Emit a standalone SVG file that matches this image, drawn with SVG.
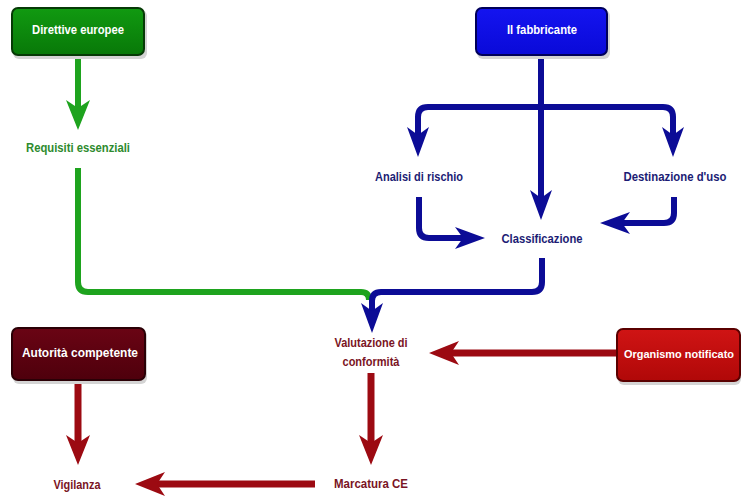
<svg xmlns="http://www.w3.org/2000/svg" width="743" height="497" viewBox="0 0 743 497">
<style>
  text { font-family: "Liberation Sans", Arial, sans-serif; font-weight: bold; font-size: 12.5px; text-anchor: middle; }
  .box text { fill: #ffffff; }
  .shadow { fill: #d4d4d4; }
  .lbl-g { fill: #2e8b2e; }
  .lbl-b { fill: #1c1c74; }
  .lbl-r { fill: #7a1424; }
  .g { stroke: #1ea31e; stroke-width: 6; fill: none; marker-end: url(#ag); }
  .b { stroke: #0c0c96; stroke-width: 6; fill: none; marker-end: url(#ab); }
  .r { stroke: #9c0a12; stroke-width: 7; fill: none; marker-end: url(#ar); }
  .nomark { marker-end: none; }
</style>
<defs>
  <marker id="ag" viewBox="0 0 30 24" refX="8" refY="12" markerWidth="30" markerHeight="24" markerUnits="userSpaceOnUse" orient="auto-start-reverse"><path d="M0,0 L30,12 L0,24 L8,12 Z" fill="#1ea31e"/></marker>
  <marker id="ab" viewBox="0 0 30 24" refX="8" refY="12" markerWidth="30" markerHeight="24" markerUnits="userSpaceOnUse" orient="auto-start-reverse"><path d="M0,1 L30,12 L0,23 L8,12 Z" fill="#0c0c96"/></marker>
  <marker id="ar" viewBox="0 0 30 24" refX="8" refY="12" markerWidth="30" markerHeight="24" markerUnits="userSpaceOnUse" orient="auto-start-reverse"><path d="M0,0 L30,12 L0,24 L8,12 Z" fill="#9c0a12"/></marker>
  <linearGradient id="gg" x1="0" y1="0" x2="0" y2="1"><stop offset="0" stop-color="#119a11"/><stop offset="1" stop-color="#087808"/></linearGradient>
  <linearGradient id="gb" x1="0" y1="0" x2="0" y2="1"><stop offset="0" stop-color="#1414f0"/><stop offset="1" stop-color="#0a0ad8"/></linearGradient>
  <linearGradient id="gm" x1="0" y1="0" x2="0" y2="1"><stop offset="0" stop-color="#6a0414"/><stop offset="1" stop-color="#4e000c"/></linearGradient>
  <linearGradient id="gr" x1="0" y1="0" x2="0" y2="1"><stop offset="0" stop-color="#d01414"/><stop offset="1" stop-color="#b00808"/></linearGradient>
</defs>

<g id="connectors">
  <path class="g" d="M78,55 V108"/>
  <path class="g nomark" d="M78,168 V282 Q78,292 88,292 H361 Q369,292 369,300"/>
  <path class="b" d="M541,55 V198"/>
  <path class="b" style="marker-start:url(#ab)" d="M418,135 V117 Q418,107 428,107 H663 Q673,107 673,117 V135"/>
  <path class="b" d="M419,197 V228 Q419,238 429,238 H463"/>
  <path class="b" d="M674,197 V213 Q674,223 664,223 H622"/>
  <path class="b" d="M542,258 V282 Q542,292 532,292 H381 Q372,292 372,301 V311"/>
  <path class="r" d="M617,353 H451"/>
  <path class="r" d="M371,373 V443"/>
  <path class="r" d="M315,484 H157"/>
  <path class="r" d="M78,380 V443"/>
</g>

<g id="direttive" class="box">
  <rect class="shadow" x="13" y="10" width="134" height="49" rx="6"/>
  <rect x="12" y="8" width="132" height="47" rx="6" fill="url(#gg)" stroke="#063a06" stroke-width="2"/>
  <text x="78" y="34" textLength="92" lengthAdjust="spacingAndGlyphs">Direttive europee</text>
</g>
<g id="fabbricante" class="box">
  <rect class="shadow" x="477" y="10" width="133" height="49" rx="6"/>
  <rect x="476" y="8" width="131" height="47" rx="6" fill="url(#gb)" stroke="#00005a" stroke-width="2"/>
  <text x="542" y="34" textLength="70" lengthAdjust="spacingAndGlyphs">Il fabbricante</text>
</g>
<g id="autorita" class="box">
  <rect class="shadow" x="13" y="330" width="134" height="54" rx="6"/>
  <rect x="12" y="328" width="133" height="52" rx="6" fill="url(#gm)" stroke="#2a0006" stroke-width="2"/>
  <text x="80" y="357" textLength="116" lengthAdjust="spacingAndGlyphs">Autorità competente</text>
</g>
<g id="organismo" class="box">
  <rect class="shadow" x="618" y="331" width="123" height="54" rx="6"/>
  <rect x="617" y="329" width="123" height="52" rx="6" fill="url(#gr)" stroke="#5a0000" stroke-width="2"/>
  <text x="679" y="358" style="font-size:11.5px" textLength="110" lengthAdjust="spacingAndGlyphs">Organismo notificato</text>
</g>

<g id="requisiti"><text class="lbl-g" x="78" y="152" textLength="104" lengthAdjust="spacingAndGlyphs">Requisiti essenziali</text></g>
<g id="analisi"><text class="lbl-b" x="419" y="181" textLength="88" lengthAdjust="spacingAndGlyphs">Analisi di rischio</text></g>
<g id="destinazione"><text class="lbl-b" x="675" y="181" textLength="103" lengthAdjust="spacingAndGlyphs">Destinazione d'uso</text></g>
<g id="classificazione"><text class="lbl-b" x="542" y="243" textLength="81" lengthAdjust="spacingAndGlyphs">Classificazione</text></g>
<g id="valutazione">
  <text class="lbl-r" x="371" y="347" textLength="73" lengthAdjust="spacingAndGlyphs">Valutazione di</text>
  <text class="lbl-r" x="371" y="366" textLength="57" lengthAdjust="spacingAndGlyphs">conformità</text>
</g>
<g id="marcatura"><text class="lbl-r" x="371" y="488" textLength="74" lengthAdjust="spacingAndGlyphs">Marcatura CE</text></g>
<g id="vigilanza"><text class="lbl-r" x="77" y="489" textLength="47" lengthAdjust="spacingAndGlyphs">Vigilanza</text></g>
</svg>
